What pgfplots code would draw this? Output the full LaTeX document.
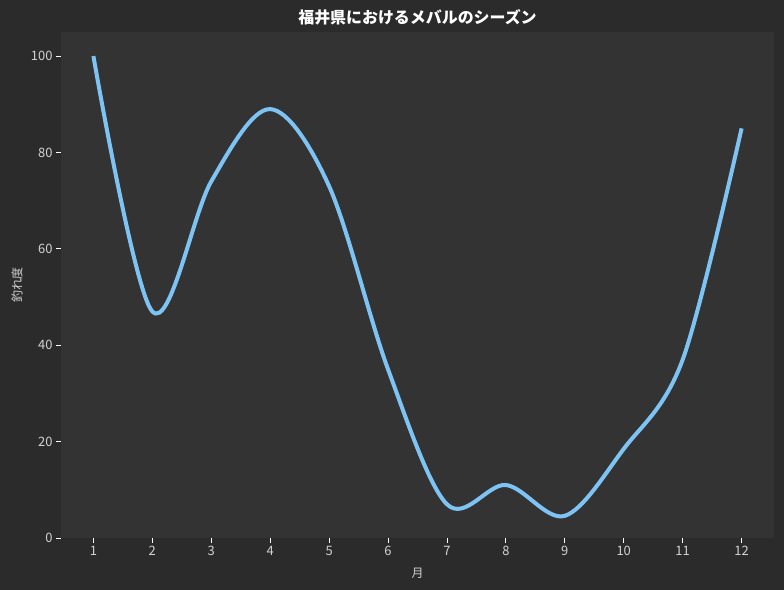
\documentclass[border=0pt]{standalone}
\usepackage{pgfplots}
\pgfplotsset{compat=1.18}
\usepackage{fontspec}
\setmainfont{Noto Sans CJK JP}
\definecolor{outerbg}{RGB}{43,43,43}
\definecolor{innerbg}{RGB}{51,51,51}
\definecolor{curve}{RGB}{125,196,245}
\definecolor{ticktext}{RGB}{210,210,210}
\begin{document}
\begin{tikzpicture}
\fill[outerbg] (-61bp,-52bp) rectangle (723bp,538bp);
\useasboundingbox (-61bp,-52bp) rectangle (723bp,538bp);
\begin{axis}[
  scale only axis,
  width=713bp, height=506bp,
  xmin=0.45, xmax=12.55,
  ymin=0, ymax=105,
  axis background/.style={fill=innerbg},
  axis line style={draw=none},
  xtick={1,...,12},
  ytick={0,20,...,100},
  tick align=outside,
  major tick length=5bp,
  tick style={color=white, line width=0.8bp},
  xtick pos=bottom, ytick pos=left,
  tick label style={font=\fontsize{13}{15}\selectfont, text=ticktext},
  /pgf/number format/assume math mode=true,
  title={福井県におけるメバルのシーズン},
  title style={font=\fontsize{16}{18}\selectfont\bfseries, text=white,
    at={(axis description cs:0.5,1)}, anchor=center, yshift=9bp},
  xlabel={月},
  ylabel={釣れ度},
  label style={font=\fontsize{12}{14}\selectfont, text=ticktext},
  xlabel style={at={(axis description cs:0.5,0)}, anchor=center, yshift=-35bp},
  ylabel style={at={(axis description cs:-0.0617,0.5)}, anchor=center},
]
\addplot[curve, line width=4bp, smooth, tension=0.55] coordinates {
  (1,100) (2,47) (3,74) (4,89) (5,73) (6,35)
  (7,7) (8,11) (9,4.6) (10,18.5) (11,37) (12,85)
};
\end{axis}
\end{tikzpicture}
\end{document}
